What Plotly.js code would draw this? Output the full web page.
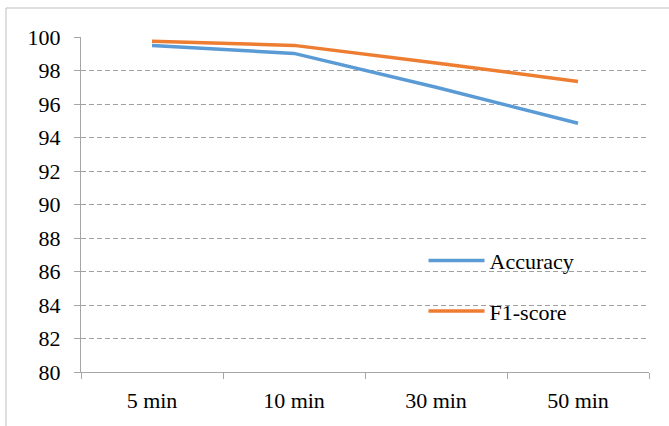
<!DOCTYPE html>
<html>
<head>
<meta charset="utf-8">
<script src="https://cdn.plot.ly/plotly-3.0.1.min.js"></script>
<style>html,body{margin:0;padding:0;background:#fff;}#chart{width:669px;height:426px;}</style>
</head>
<body>
<div id="chart"></div>
<script>
const categories = ["5 min", "10 min", "30 min", "50 min"];
const accuracy = [99.5, 99.02, 97.0, 94.85];
const f1score = [99.75, 99.5, 98.45, 97.35];
const yTickValues = [80, 82, 84, 86, 88, 90, 92, 94, 96, 98, 100];

const font = {family: "Liberation Serif", size: 22, color: "#000"};

const traces = [
  {x: categories, y: accuracy, name: "Accuracy", type: "scatter", mode: "lines",
   line: {color: "#5b9bd5", width: 3.5}, legendgroup: "a"},
  {x: categories, y: f1score, name: "F1-score", type: "scatter", mode: "lines",
   line: {color: "#ed7d31", width: 3.5}, legendgroup: "b"}
];

const layout = {
  width: 669, height: 426,
  margin: {l: 81, r: 20, t: 37, b: 54},
  paper_bgcolor: "#fff", plot_bgcolor: "#fff",
  font: font,
  showlegend: true,
  legend: {x: 0.603, y: 0.395, xanchor: "left", yanchor: "top",
           bgcolor: "rgba(0,0,0,0)", traceorder: "grouped", tracegroupgap: 19,
           itemwidth: 56, font: font},
  xaxis: {type: "category", range: [-0.5, 3.5], showgrid: false, zeroline: false,
          showline: true, linecolor: "#a6a6a6", linewidth: 1,
          ticks: "outside", tickson: "boundaries", ticklen: 6, tickcolor: "#a6a6a6",
          ticklabelstandoff: 9, tickfont: font, fixedrange: true},
  yaxis: {range: [80, 100], tickvals: yTickValues, ticktext: yTickValues.map(String),
          showgrid: true, gridcolor: "#a0a0a0", griddash: "5px,3px", gridwidth: 1,
          zeroline: false, showline: true, linecolor: "#a6a6a6", linewidth: 1,
          ticks: "outside", ticklen: 6, tickcolor: "#a6a6a6", ticklabelstandoff: 9,
          tickfont: font, fixedrange: true},
  shapes: [
    {type: "rect", xref: "paper", yref: "paper",
     x0: (6 - 81) / 568, x1: (700 - 81) / 568,
     y0: (372 - 440) / 335, y1: (372 - 8) / 335,
     line: {color: "#bfbfbf", width: 1}, fillcolor: "rgba(0,0,0,0)", layer: "below"}
  ]
};

Plotly.newPlot("chart", traces, layout, {displayModeBar: false, staticPlot: true});
</script>
</body>
</html>
